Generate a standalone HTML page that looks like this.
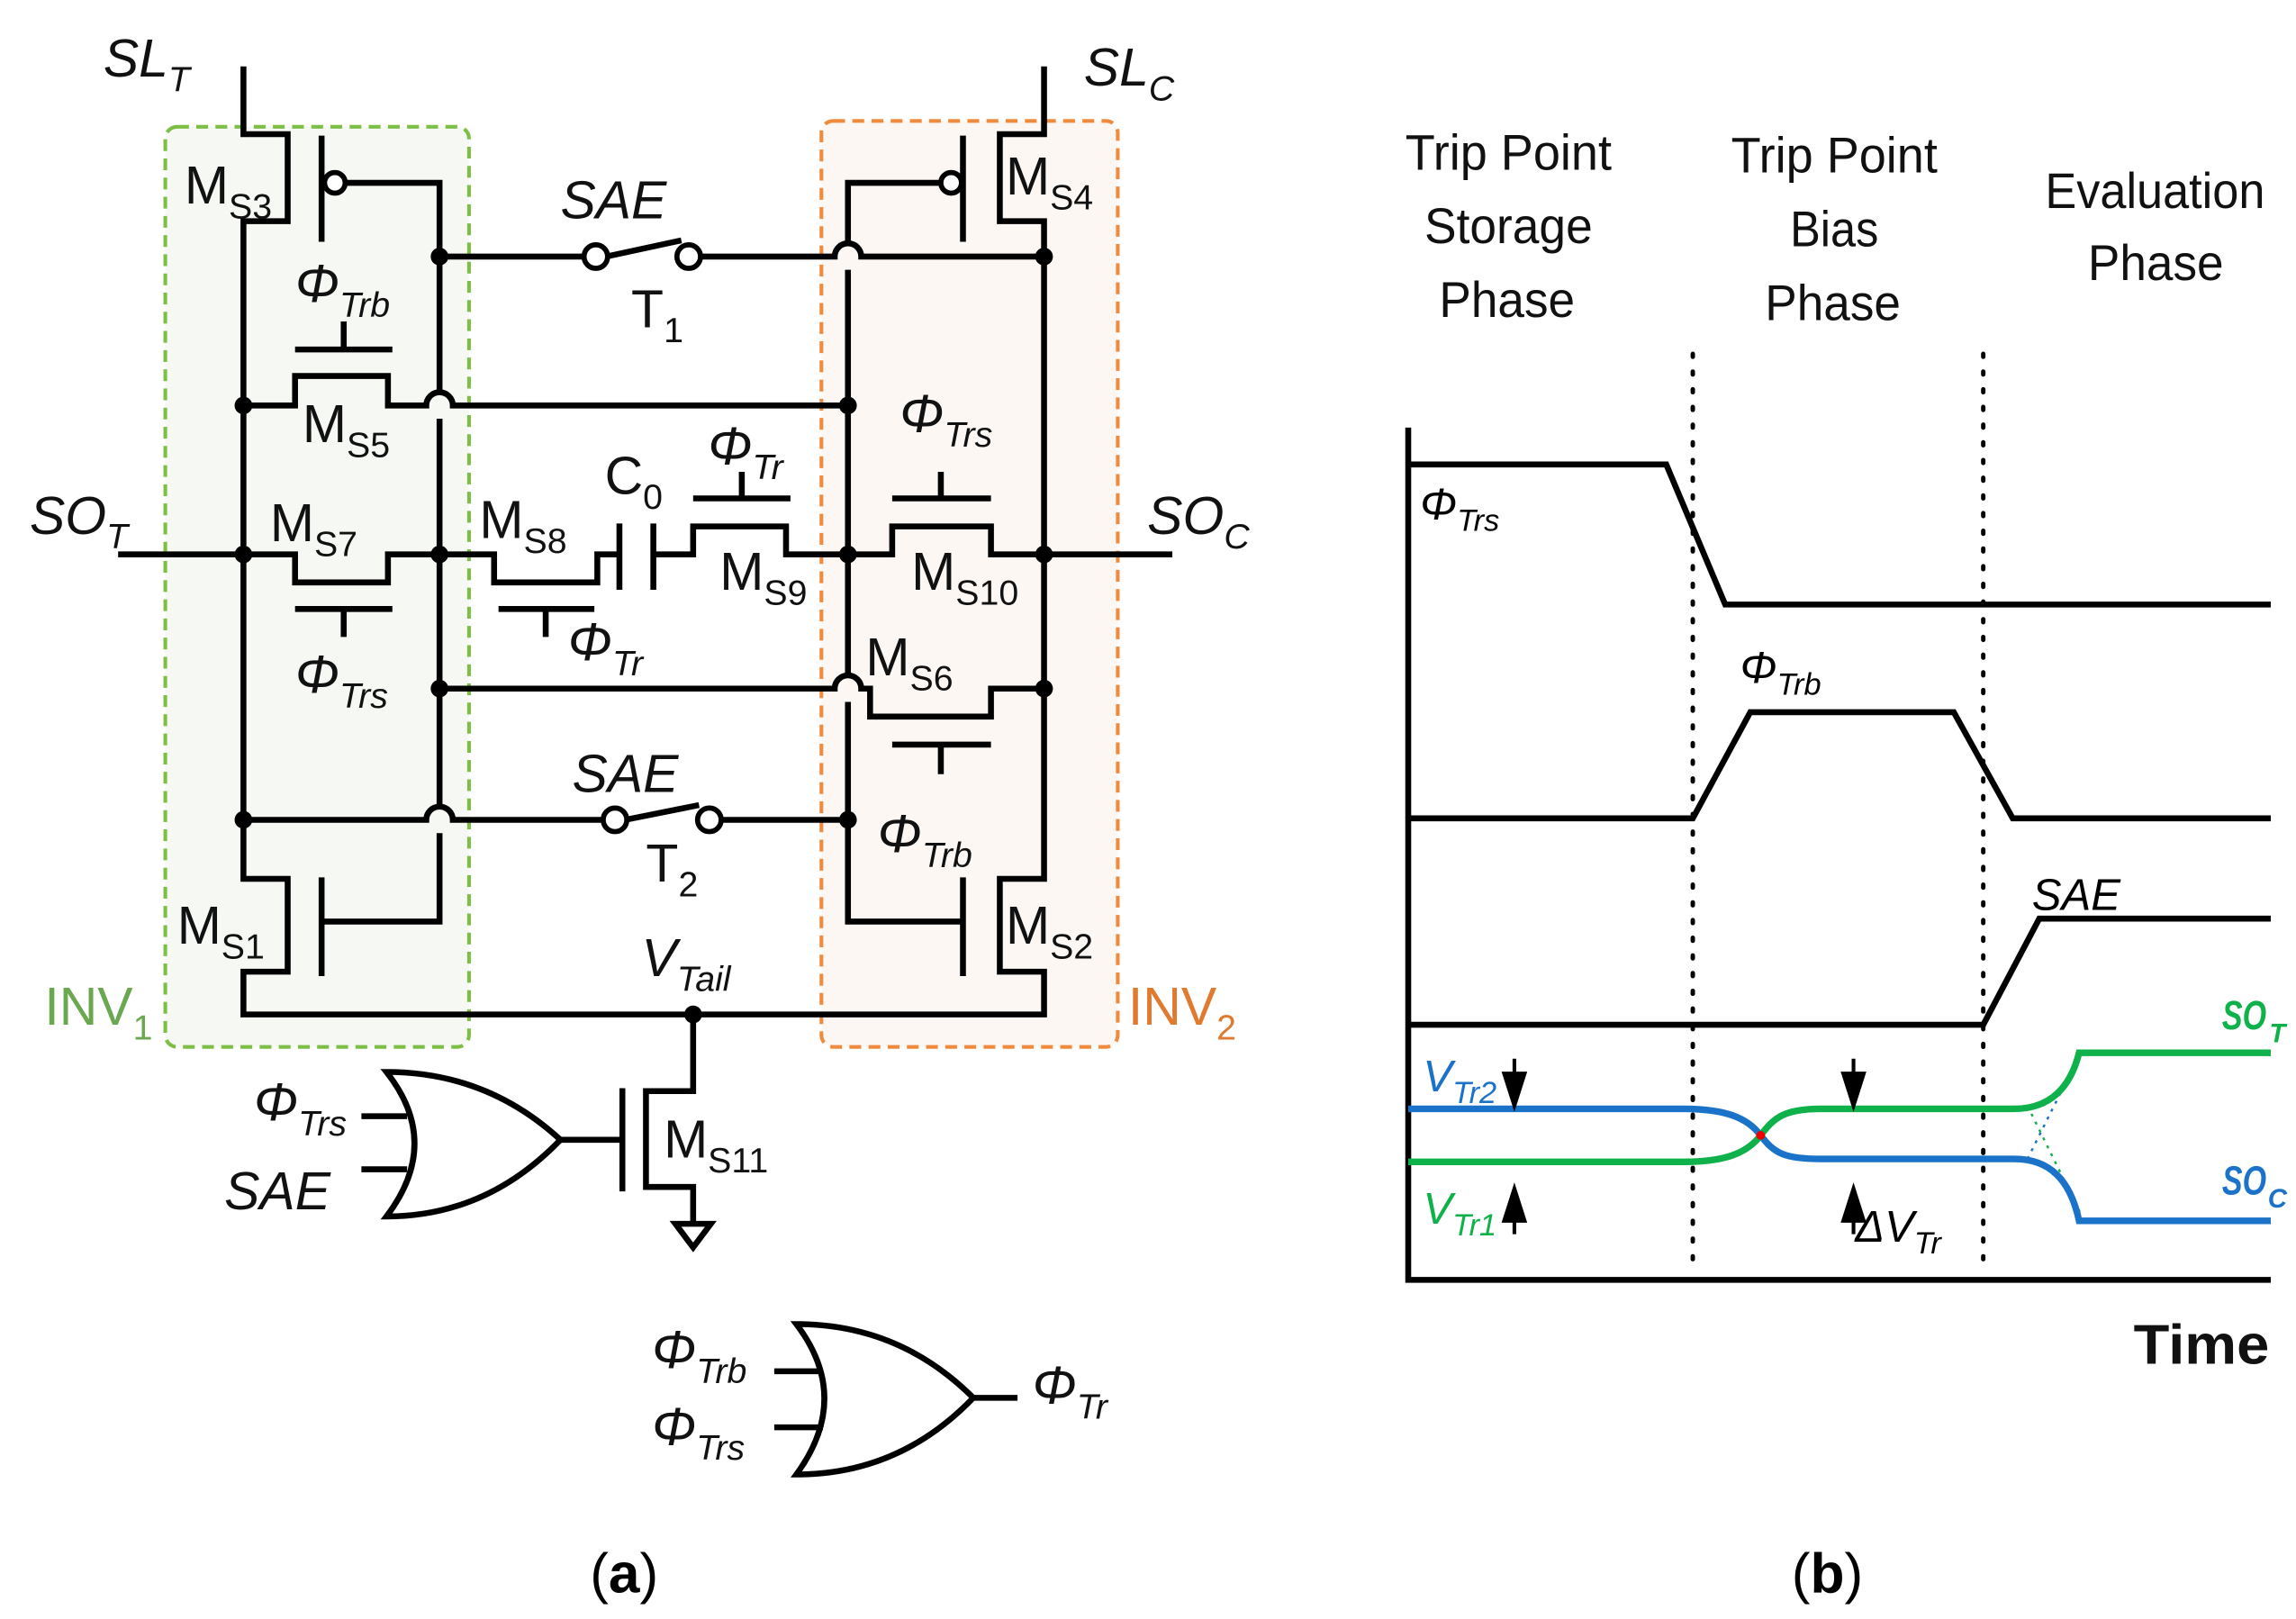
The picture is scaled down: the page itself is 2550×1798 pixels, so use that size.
<!DOCTYPE html>
<html><head><meta charset="utf-8"><style>
html,body{margin:0;padding:0;background:#fff;}
svg{display:block;}
text{font-family:"Liberation Sans",sans-serif;}
.i{font-style:italic;}
</style></head><body>
<svg width="2550" height="1798" viewBox="0 0 1557 1098" xmlns="http://www.w3.org/2000/svg">
<rect x="112" y="86" width="206" height="624" rx="8" fill="#f6f9f3" stroke="#7cbf44" stroke-width="2.5" stroke-dasharray="8,5"/>
<rect x="557" y="82" width="201" height="628" rx="8" fill="#fcf7f3" stroke="#f08a3c" stroke-width="2.5" stroke-dasharray="8,5"/>
<g fill="none" stroke="#000" stroke-width="4" stroke-linejoin="miter">
<path d="M165 45 V91 H195 V150 H165 V596 H195 V659 H165 V688 H708 V659 H678 V596 H708 V150 H678 V91 H708 V45"/>
<path d="M218 92 V164 M218 595 V662 M653 92 V164 M653 595 V662"/>
<path d="M233 124 H298 V266 M298 284 V547 M298 565 V625 H218"/>
<path d="M643 124 H575 V165 M575 183 V458 M575 476 V625 H653"/>
<path d="M298 174 H397 M411 174 L462 163 M474 174 H566 A9 9 0 0 1 584 174 H708"/>
<path d="M165 275 H200 V255 H263 V275 H289 A9 9 0 0 1 307 275 H575"/>
<path d="M200 237 H266 M233 237 V218"/>
<path d="M80 376 H200 V395 H263 V376 H335 V395 H405 V376 H420 M443 376 H470 V357 H533 V376 H605 V357 H672 V376 H795"/>
<path d="M200 413 H266 M233 413 V432"/>
<path d="M338 413 H403 M370 413 V432"/>
<path d="M420 355 V400 M443 355 V400"/>
<path d="M470 338 H536 M503 338 V320"/>
<path d="M605 338 H672 M638 338 V320"/>
<path d="M298 467 H566 A9 9 0 0 1 584 467 H590 V486 H672 V467 H708"/>
<path d="M605 505 H672 M638 505 V525"/>
<path d="M165 556 H289 A9 9 0 0 1 307 556 H410 M424 556 L474 546 M488 556 H575"/>
<path d="M470 688 V740 H438 V805 H470 V830"/>
<path d="M422 738 V808 M380 773 H422"/>
<path d="M458 830 H482 L470 846 Z"/>
<path d="M262 727 Q300 775 262 825 Q330 825 380 773 Q330 727 262 727 Z"/>
<path d="M245 757 H276 M245 793 H276"/>
<path d="M540 898 Q578 948 540 1000 Q610 1000 660 948 Q610 898 540 898 Z"/>
<path d="M525 930 H558 M525 968 H558 M660 948 H690"/>
</g>
<g fill="#fff" stroke="#000" stroke-width="3.5">
<circle cx="227" cy="124" r="7"/><circle cx="645" cy="124" r="7"/>
<circle cx="404" cy="174" r="8"/><circle cx="467" cy="174" r="8"/>
<circle cx="417" cy="556" r="8"/><circle cx="481" cy="556" r="8"/>
</g>
<g fill="#000">
<circle cx="298" cy="174" r="6"/><circle cx="708" cy="174" r="6"/>
<circle cx="165" cy="275" r="6"/><circle cx="575" cy="275" r="6"/>
<circle cx="165" cy="376" r="6"/><circle cx="298" cy="376" r="6"/><circle cx="575" cy="376" r="6"/><circle cx="708" cy="376" r="6"/>
<circle cx="298" cy="467" r="6"/><circle cx="708" cy="467" r="6"/>
<circle cx="165" cy="556" r="6"/><circle cx="575" cy="556" r="6"/>
<circle cx="470" cy="688" r="6"/>
</g>
<g font-size="36" fill="#111">
<text x="70" y="52" class="i">SL<tspan font-size="24" dy="10">T</tspan></text>
<text x="735" y="58" class="i">SL<tspan font-size="24" dy="10">C</tspan></text>
<text x="125" y="138">M<tspan font-size="24" dy="10">S3</tspan></text>
<text x="682" y="132">M<tspan font-size="24" dy="10">S4</tspan></text>
<text x="380" y="148" class="i">SAE</text>
<text x="428" y="222">T<tspan font-size="24" dy="10">1</tspan></text>
<text x="200" y="205" class="i">Φ<tspan font-size="24" dy="10">Trb</tspan></text>
<text x="205" y="300">M<tspan font-size="24" dy="10">S5</tspan></text>
<text x="610" y="293" class="i">Φ<tspan font-size="24" dy="10">Trs</tspan></text>
<text x="20" y="362" class="i">SO<tspan font-size="24" dy="10">T</tspan></text>
<text x="778" y="362" class="i">SO<tspan font-size="24" dy="10">C</tspan></text>
<text x="183" y="367">M<tspan font-size="24" dy="10">S7</tspan></text>
<text x="325" y="365">M<tspan font-size="24" dy="10">S8</tspan></text>
<text x="410" y="335">C<tspan font-size="24" dy="10">0</tspan></text>
<text x="480" y="315" class="i">Φ<tspan font-size="24" dy="10">Tr</tspan></text>
<text x="488" y="400">M<tspan font-size="24" dy="10">S9</tspan></text>
<text x="618" y="400">M<tspan font-size="24" dy="10">S10</tspan></text>
<text x="385" y="448" class="i">Φ<tspan font-size="24" dy="10">Tr</tspan></text>
<text x="200" y="470" class="i">Φ<tspan font-size="24" dy="10">Trs</tspan></text>
<text x="587" y="458">M<tspan font-size="24" dy="10">S6</tspan></text>
<text x="388" y="537" class="i">SAE</text>
<text x="438" y="598">T<tspan font-size="24" dy="10">2</tspan></text>
<text x="595" y="578" class="i">Φ<tspan font-size="24" dy="10">Trb</tspan></text>
<text x="120" y="640">M<tspan font-size="24" dy="10">S1</tspan></text>
<text x="682" y="640">M<tspan font-size="24" dy="10">S2</tspan></text>
<text x="435" y="662" class="i">V<tspan font-size="24" dy="10">Tail</tspan></text>
<text x="30" y="695" fill="#6aa84f">INV<tspan font-size="24" dy="10">1</tspan></text>
<text x="765" y="695" fill="#e07a2e">INV<tspan font-size="24" dy="10">2</tspan></text>
<text x="172" y="760" class="i">Φ<tspan font-size="24" dy="10">Trs</tspan></text>
<text x="152" y="820" class="i">SAE</text>
<text x="450" y="785">M<tspan font-size="24" dy="10">S11</tspan></text>
<text x="442" y="928" class="i">Φ<tspan font-size="24" dy="10">Trb</tspan></text>
<text x="442" y="980" class="i">Φ<tspan font-size="24" dy="10">Trs</tspan></text>
<text x="700" y="952" class="i">Φ<tspan font-size="24" dy="10">Tr</tspan></text>
</g>
<text x="400" y="1080" font-family="Liberation Serif" font-size="38">(<tspan font-weight="bold">a</tspan>)</text>
<text x="1215" y="1080" font-family="Liberation Serif" font-size="38">(<tspan font-weight="bold">b</tspan>)</text>
<g font-size="34" fill="#111">
<text x="953" y="115" textLength="140" lengthAdjust="spacingAndGlyphs">Trip Point</text>
<text x="966" y="165" textLength="114" lengthAdjust="spacingAndGlyphs">Storage</text>
<text x="976" y="215" textLength="92" lengthAdjust="spacingAndGlyphs">Phase</text>
<text x="1174" y="117" textLength="140" lengthAdjust="spacingAndGlyphs">Trip Point</text>
<text x="1214" y="167" textLength="60" lengthAdjust="spacingAndGlyphs">Bias</text>
<text x="1197" y="217" textLength="92" lengthAdjust="spacingAndGlyphs">Phase</text>
<text x="1387" y="141" textLength="149" lengthAdjust="spacingAndGlyphs">Evaluation</text>
<text x="1416" y="190" textLength="92" lengthAdjust="spacingAndGlyphs">Phase</text>
<text x="1447" y="925" font-weight="bold" font-size="38" textLength="92" lengthAdjust="spacingAndGlyphs">Time</text>
</g>
<g stroke="#000" stroke-width="3" stroke-dasharray="2,10" stroke-linecap="round">
<path d="M1148 240 V860 M1345 240 V860"/>
</g>
<g fill="none" stroke="#000" stroke-width="4">
<path d="M955 290 V868 H1540"/>
<path d="M955 315 H1130 L1170 410 H1540"/>
<path d="M955 555 H1148 L1187 483 H1325 L1365 555 H1540"/>
<path d="M955 695 H1345 L1383 623 H1540"/>
</g>
<g fill="none" stroke-width="1.5" stroke-dasharray="2,4">
<path d="M1375 750 L1412 825" stroke="#0fb14a"/>
<path d="M1375 786 L1412 712" stroke="#1a72c9"/>
</g>
<g fill="none" stroke-width="4.5">
<path d="M955 752 H1141 C1170 752 1185 758 1194 770 C1203 782 1210 786 1235 786 H1366 C1390 786 1404 800 1410 828 H1540" stroke="#1a72c9"/>
<path d="M955 788 H1141 C1170 788 1185 782 1194 770 C1203 758 1210 752 1235 752 H1366 C1390 752 1404 738 1410 714 H1540" stroke="#0fb14a"/>
</g>
<circle cx="1194" cy="770" r="3" fill="#e00"/>
<g stroke="#000" stroke-width="2.5" fill="#000">
<path d="M1027 718 V748" fill="none"/><path d="M1020 728 L1034 728 L1027 750Z"/>
<path d="M1027 837 V808" fill="none"/><path d="M1020 828 L1034 828 L1027 806Z"/>
<path d="M1257 718 V748" fill="none"/><path d="M1250 728 L1264 728 L1257 750Z"/>
<path d="M1257 837 V808" fill="none"/><path d="M1250 828 L1264 828 L1257 806Z"/>
</g>
<g font-size="30">
<text x="963" y="352" class="i">Φ<tspan font-size="21" dy="8">Trs</tspan></text>
<text x="1180" y="463" class="i">Φ<tspan font-size="21" dy="8">Trb</tspan></text>
<text x="1378" y="617" class="i">SAE</text>
<text x="965" y="740" class="i" fill="#1a72c9">V<tspan font-size="21" dy="8">Tr2</tspan></text>
<text x="965" y="830" class="i" fill="#0fb14a">V<tspan font-size="21" dy="8">Tr1</tspan></text>
<text x="1258" y="842" class="i">ΔV<tspan font-size="21" dy="8">Tr</tspan></text>
<text x="1507" y="698" class="i" fill="#0fb14a" font-weight="bold" font-size="28" textLength="30" lengthAdjust="spacingAndGlyphs">SO</text>
<text x="1539" y="707" class="i" fill="#0fb14a" font-weight="bold" font-size="18">T</text>
<text x="1507" y="810" class="i" fill="#1a72c9" font-weight="bold" font-size="28" textLength="30" lengthAdjust="spacingAndGlyphs">SO</text>
<text x="1538" y="819" class="i" fill="#1a72c9" font-weight="bold" font-size="18">C</text>
</g>
</svg>
</body></html>
